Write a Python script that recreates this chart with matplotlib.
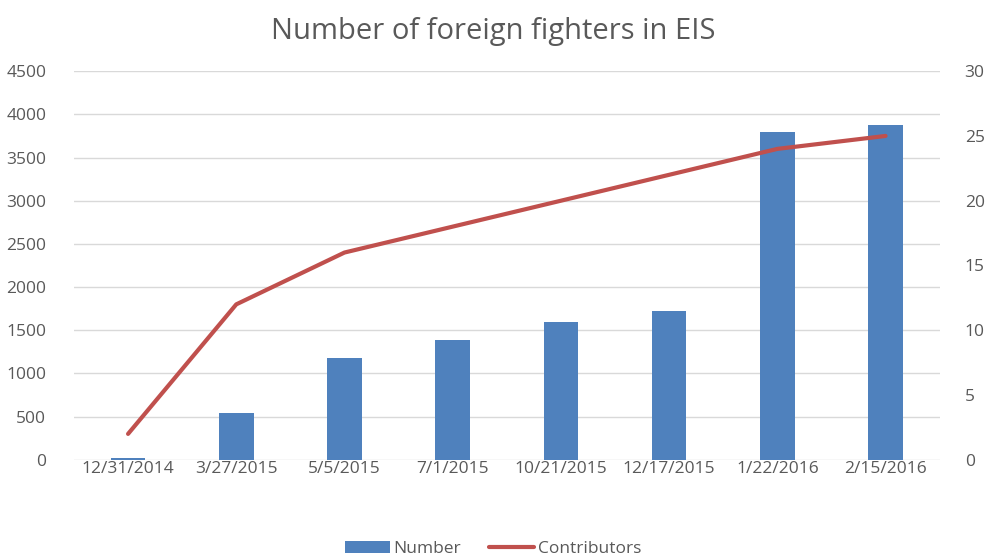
import matplotlib.pyplot as plt
import numpy as np

plt.rcParams['font.family'] = ['Open Sans', 'DejaVu Sans']

dates = ['12/31/2014', '3/27/2015', '5/5/2015', '7/1/2015',
         '10/21/2015', '12/17/2015', '1/22/2016', '2/15/2016']
number = [25, 540, 1180, 1385, 1590, 1725, 3790, 3875]
contributors = [2, 12, 16, 18, 20, 22, 24, 25]

bar_color = '#4F81BD'
line_color = '#C0504D'
text_color = '#595959'
grid_color = '#D9D9D9'

fig = plt.figure(figsize=(9.86, 5.56), dpi=100)
ax = fig.add_axes([0.075, 0.173, 0.878, 0.699])
ax2 = ax.twinx()

x = np.arange(len(dates))
ax.bar(x, number, width=0.32, color=bar_color, label='Number', zorder=2)
ax2.plot(x, contributors, color=line_color, linewidth=3, label='Contributors',
         solid_capstyle='round')

ax.set_xlim(-0.5, len(dates) - 0.5)
ax.set_ylim(0, 4500)
ax.set_yticks(np.arange(0, 4501, 500))
ax2.set_ylim(0, 30)
ax2.set_yticks(np.arange(0, 31, 5))
ax.set_xticks(x)
ax.set_xticklabels(dates)

ax.grid(True, axis='y', color=grid_color, linewidth=1, zorder=0)
ax.set_axisbelow(True)
for a in (ax, ax2):
    for s in a.spines.values():
        s.set_visible(False)
    a.tick_params(length=0, labelsize=12.5, colors=text_color)
ax.tick_params(axis='y', pad=20)
ax.tick_params(axis='x', pad=1)
ax2.tick_params(axis='y', pad=18)

fig.suptitle('Number of foreign fighters in EIS', y=0.97, fontsize=21,
             color=text_color)

h1, l1 = ax.get_legend_handles_labels()
h2, l2 = ax2.get_legend_handles_labels()
fig.legend(h1 + h2, l1 + l2, loc='lower center', bbox_to_anchor=(0.5, -0.03),
           ncol=2, frameon=False, fontsize=12.5, labelcolor=text_color,
           handlelength=2.6, handletextpad=0.2, columnspacing=1.6)

plt.savefig('out.png', dpi=100)
